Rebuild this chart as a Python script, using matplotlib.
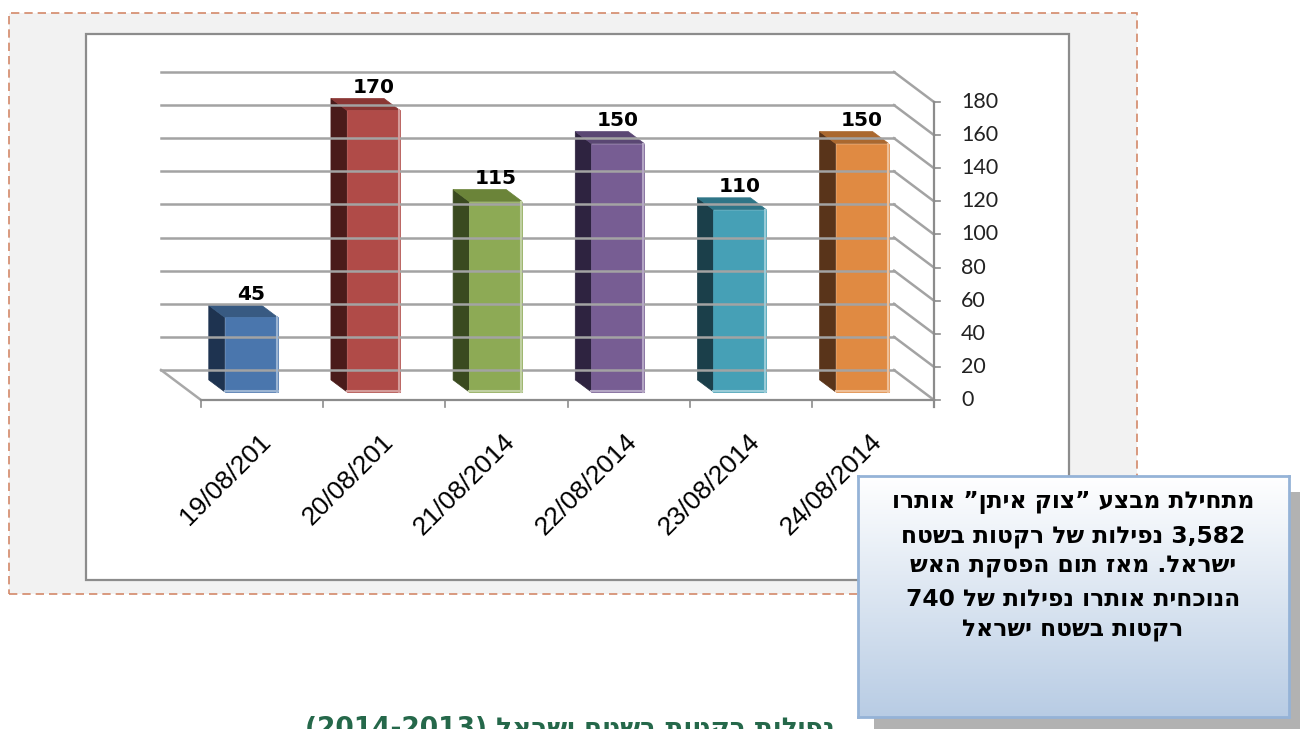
import re
import numpy as np
import matplotlib
matplotlib.use('Agg')
import matplotlib.pyplot as plt
from matplotlib.patches import Rectangle, Polygon
from matplotlib.transforms import IdentityTransform, ScaledTranslation
from matplotlib.colors import LinearSegmentedColormap, to_rgb

# data
dates = ['19/08/201', '20/08/201', '21/08/2014', '22/08/2014', '23/08/2014', '24/08/2014']
values = [45, 170, 115, 150, 110, 150]
y_ticks = [0, 20, 40, 60, 80, 100, 120, 140, 160, 180]

front_colors = ['#4A76AD', '#B04B48', '#8DAA55', '#775D93', '#46A0B6', '#E08A42']
side_colors = ['#1E3350', '#4A1B1A', '#3A4A20', '#2E2340', '#1B3F4A', '#59341A']
top_colors = ['#385A82', '#8A3634', '#6B8439', '#5A4773', '#2F7587', '#AA682F']

note_lines = [
    'מתחילת מבצע ”צוק איתן” אותרו',
    '3,582 נפילות של רקטות בשטח',
    'ישראל. מאז תום הפסקת האש',
    'הנוכחית אותרו נפילות של 740',
    'רקטות בשטח ישראל',
]
title = 'נפילות רקטות בשטח ישראל (2013-2014)'


def visual(s):
    # matplotlib has no bidi support: lay the RTL text out in visual order
    r = s[::-1]
    r = re.sub(r'[0-9][0-9,]*', lambda m: m.group(0)[::-1], r)
    return r.translate(str.maketrans('()', ')('))


def lighter(c, k=0.45):
    return tuple(np.array(to_rgb(c)) * (1 - k) + k)


W, H = 1300, 729
fig = plt.figure(figsize=(W / 100, H / 100), dpi=100)


def fx(x):
    return x / W


def fy(y):
    return 1 - y / H


# dashed outer frame and white chart area
fig.patches.append(Rectangle((fx(9), fy(594)), fx(1137) - fx(9), fy(13) - fy(594),
                             transform=fig.transFigure, facecolor='#F2F2F2',
                             edgecolor='#D3896A', lw=1.2, linestyle=(0, (5, 3)), zorder=-2))
fig.patches.append(Rectangle((fx(86), fy(580)), fx(1069) - fx(86), fy(34) - fy(580),
                             transform=fig.transFigure, facecolor='white',
                             edgecolor='#8C8C8C', lw=1.6, zorder=-1))

# front plane of the 3d chart
ax = fig.add_axes([fx(201), fy(400), fx(934) - fx(201), fy(102) - fy(400)], zorder=1)
ax.set_xlim(0, len(values))
ax.set_ylim(0, 180)
ax.axis('off')

DX, DY = 40, 30          # depth offset of the back wall in pixels
T_FRONT, T_BACK = 0.27, 0.67
BAR_W = 0.434


def P(x, y, t):
    return ax.transData.transform((x, y)) + np.array([-DX * t, DY * t])


def seg(p0, p1, color, lw):
    ax.add_line(plt.Line2D([p0[0], p1[0]], [p0[1], p1[1]], color=color, lw=lw,
                           transform=IdentityTransform(), clip_on=False))


n = len(values)
grid_color = '#A3A3A3'
for v in y_ticks:
    seg(P(0, v, 1), P(n, v, 1), grid_color, 1.8)      # back wall
    seg(P(n, v, 1), P(n, v, 0), grid_color, 1.8)      # right side wall
    seg(P(n, v, 0), P(n, v, 0) + np.array([6, 0]), '#8C8C8C', 1.2)
    ax.text(n, v, str(v), transform=ax.transData + ScaledTranslation(0.27, 0, fig.dpi_scale_trans),
            ha='left', va='center', fontsize=15.5, family='Lato', color='#222222')

# floor and axis lines
seg(P(0, 0, 1), P(0, 0, 0), '#A8A8A8', 1.8)
seg(P(0, 0, 0), P(n, 0, 0), '#8C8C8C', 1.6)
seg(P(n, 0, 0) + np.array([0, -7]), P(n, 180, 0), '#8C8C8C', 1.6)
for i in range(n + 1):
    seg(P(i, 0, 0), P(i, 0, 0) + np.array([0, -7]), '#8C8C8C', 1.2)

# 3d bars
for i, v in enumerate(values):
    x0, x1 = i + 0.5 - BAR_W / 2, i + 0.5 + BAR_W / 2
    side = [P(x0, 0, T_FRONT), P(x0, 0, T_BACK), P(x0, v, T_BACK), P(x0, v, T_FRONT)]
    top = [P(x0, v, T_FRONT), P(x1, v, T_FRONT), P(x1, v, T_BACK), P(x0, v, T_BACK)]
    front = [P(x0, 0, T_FRONT), P(x1, 0, T_FRONT), P(x1, v, T_FRONT), P(x0, v, T_FRONT)]
    for pts, c in [(side, side_colors[i]), (top, top_colors[i]), (front, front_colors[i])]:
        ax.add_patch(Polygon(pts, closed=True, facecolor=c, edgecolor=c, lw=0.5,
                             transform=IdentityTransform(), clip_on=False))
    # soft highlight on the right and bottom edge of the front face
    hl = lighter(front_colors[i])
    seg(P(x1, 0, T_FRONT) + np.array([-1, 0]), P(x1, v, T_FRONT) + np.array([-1, 0]), hl, 1.5)
    seg(P(x0, 0, T_FRONT) + np.array([0, 1]), P(x1, 0, T_FRONT) + np.array([0, 1]), hl, 1.5)
    ax.text(i + 0.5, v, str(v),
            transform=ax.transData + ScaledTranslation(-DX * T_FRONT / 100, 0.26, fig.dpi_scale_trans),
            ha='center', va='baseline', fontsize=14.5, fontweight='bold', color='black')
    ax.text(i + 0.5, 0, dates[i],
            transform=ax.transData + ScaledTranslation(0.05, -0.38, fig.dpi_scale_trans),
            ha='right', va='center', rotation=45, rotation_mode='anchor',
            fontsize=19, family='Liberation Sans', color='black')

# note box with shadow and gradient
bx0, by0, bx1, by1 = 858, 476, 1289, 717
fig.patches.append(Rectangle((fx(bx0 + 16), fy(by1 + 16)), fx(bx1) - fx(bx0), fy(by0) - fy(by1),
                             transform=fig.transFigure, facecolor='#B2B2B2',
                             edgecolor='none', zorder=4))
tb = fig.add_axes([fx(bx0), fy(by1), fx(bx1) - fx(bx0), fy(by0) - fy(by1)], zorder=5)
grad = np.linspace(0, 1, 256).reshape(-1, 1)
cmap = LinearSegmentedColormap.from_list('box', ['#FFFFFF', '#B8CCE4'])
tb.imshow(grad, aspect='auto', cmap=cmap, extent=[0, 1, 0, 1], origin='upper')
tb.set_xticks([])
tb.set_yticks([])
for sp in tb.spines.values():
    sp.set_color('#95B3D7')
    sp.set_linewidth(2)

line_y = [503, 536, 567, 599, 631]
for line, y in zip(note_lines, line_y):
    fig.text(fx(1073), fy(y), visual(line), ha='center', va='center', fontsize=16.8,
             fontweight='bold', family='DejaVu Sans', color='black', zorder=6)

# heading cut off by the bottom edge
fig.text(fx(570), fy(716), visual(title), ha='center', va='top', fontsize=19,
         fontweight='bold', family='DejaVu Sans', color='#25684A', zorder=3)

fig.savefig('out.png', dpi=100)
